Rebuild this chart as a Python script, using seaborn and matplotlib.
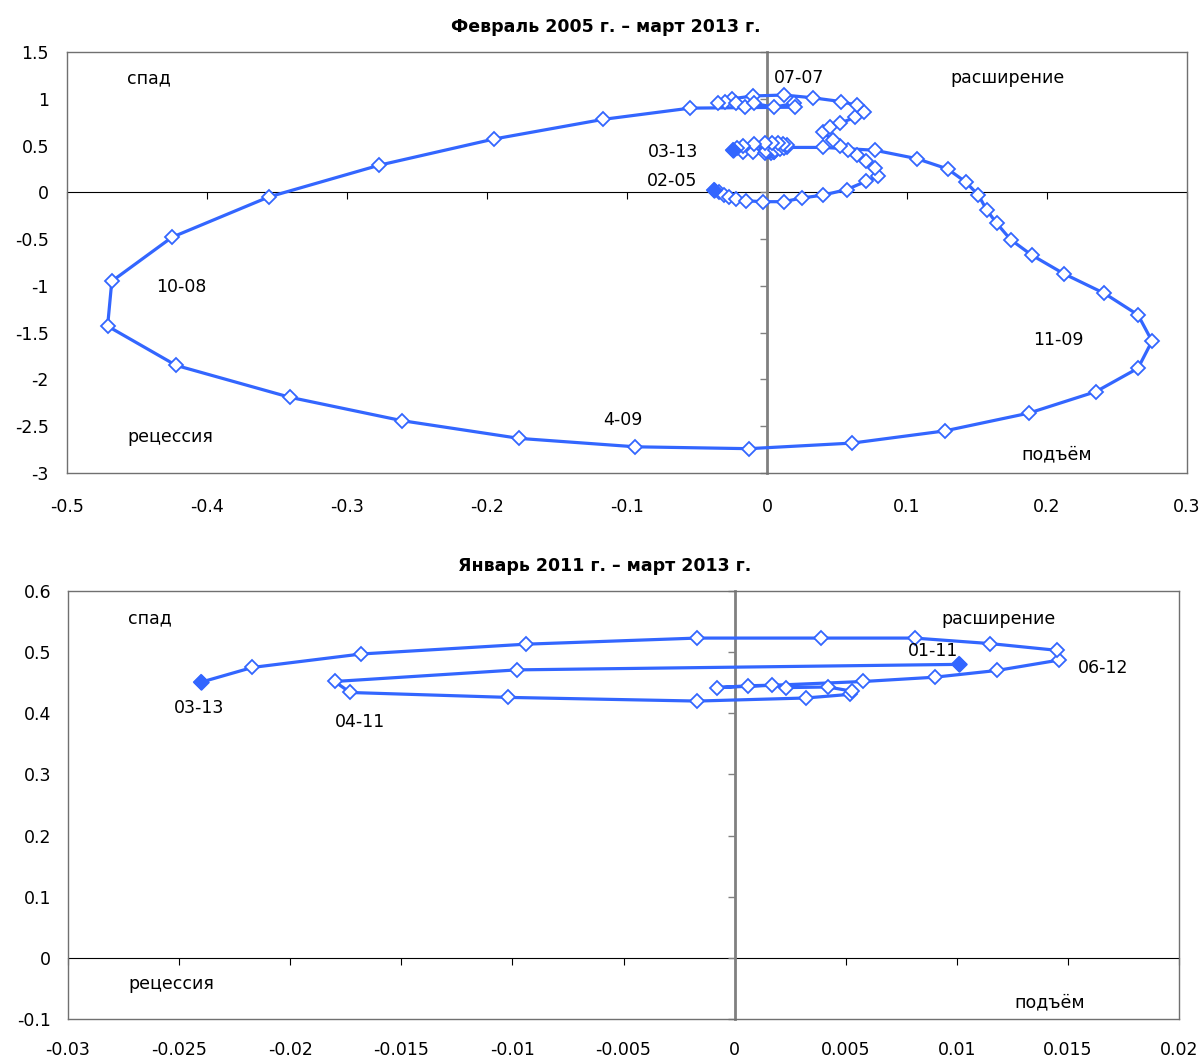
import matplotlib
matplotlib.use("Agg")
import matplotlib.pyplot as plt
import pandas as pd
import seaborn as sns
from matplotlib.ticker import FuncFormatter

# месяцы: февраль 2005 – март 2013
months = pd.date_range("2005-02-01", "2013-03-01", freq="MS").strftime("%m-%y")

# февраль 2005 – декабрь 2010
x_05_10 = [-0.038, -0.034, -0.031, -0.027, -0.022, -0.015, -0.003, 0.012, 0.025, 0.040, 0.057,
           0.071, 0.079, 0.077, 0.071, 0.064, 0.058, 0.052, 0.047, 0.040, 0.045, 0.052, 0.063,
           0.069, 0.064, 0.053, 0.033, 0.012, -0.010, -0.025, -0.030, -0.035, -0.022, -0.016,
           -0.009, 0.005, 0.019, 0.020, -0.055, -0.117, -0.195, -0.277, -0.356, -0.425, -0.468,
           -0.471, -0.422, -0.341, -0.261, -0.177, -0.094, -0.013, 0.061, 0.127, 0.187, 0.235,
           0.265, 0.275, 0.265, 0.241, 0.212, 0.189, 0.174, 0.164, 0.157, 0.151, 0.142, 0.129,
           0.107, 0.077, 0.040]
y_05_10 = [0.03, 0.00, -0.03, -0.05, -0.07, -0.09, -0.10, -0.10, -0.06, -0.03, 0.03,
           0.12, 0.17, 0.26, 0.33, 0.40, 0.45, 0.50, 0.56, 0.64, 0.70, 0.74, 0.80,
           0.86, 0.93, 0.97, 1.01, 1.04, 1.03, 1.00, 0.965, 0.95, 0.96, 0.91,
           0.95, 0.91, 0.95, 0.91, 0.90, 0.78, 0.57, 0.29, -0.05, -0.48, -0.95,
           -1.43, -1.85, -2.19, -2.44, -2.63, -2.72, -2.74, -2.68, -2.55, -2.36, -2.13,
           -1.88, -1.59, -1.31, -1.08, -0.87, -0.67, -0.505, -0.33, -0.19, -0.03, 0.11, 0.25,
           0.36, 0.45, 0.48]

# январь 2011 – март 2013
x_11_13 = [0.0101, -0.0098, -0.0180, -0.0173, -0.0102, -0.0017, 0.0032, 0.0052, 0.0053,
           0.0042, 0.0023, 0.0017, 0.0006, -0.0008, 0.0058, 0.0090, 0.0118, 0.0146, 0.0145,
           0.0115, 0.0081, 0.0039, -0.0017, -0.0094, -0.0168, -0.0217, -0.0240]
y_11_13 = [0.480, 0.471, 0.452, 0.434, 0.426, 0.420, 0.425, 0.431, 0.436,
           0.443, 0.442, 0.446, 0.445, 0.442, 0.452, 0.459, 0.470, 0.487, 0.503,
           0.514, 0.523, 0.523, 0.523, 0.513, 0.497, 0.475, 0.451]

BLUE = "#3366ff"

sns.set_style("white")
plt.rcParams["font.family"] = ["DejaVu Sans"]
plt.rcParams["axes.unicode_minus"] = False
plt.rcParams["text.color"] = "black"
plt.rcParams["xtick.color"] = "black"
plt.rcParams["ytick.color"] = "black"

df_all = pd.DataFrame({"month": months, "x": x_05_10 + x_11_13, "y": y_05_10 + y_11_13})
df_last = df_all.iloc[-len(x_11_13):].reset_index(drop=True)


def draw_loop(ax, df):
    sns.lineplot(data=df, x="x", y="y", sort=False, estimator=None, ax=ax, color=BLUE,
                 linewidth=2.3, marker="D", markersize=7.5, markerfacecolor="white",
                 markeredgecolor=BLUE, markeredgewidth=1.3, zorder=3)
    ends = df.iloc[[0, -1]]
    sns.scatterplot(data=ends, x="x", y="y", ax=ax, marker="D", s=56, color=BLUE,
                    edgecolor=BLUE, linewidth=1.3, zorder=4)


def style_axes(ax, xlim, ylim, xstep, ystep, xpad, ypad):
    ax.set_xlim(xlim)
    ax.set_ylim(ylim)
    xt = [round(xlim[0] + i * xstep, 4) for i in range(int(round((xlim[1] - xlim[0]) / xstep)) + 1)]
    yt = [round(ylim[0] + i * ystep, 4) for i in range(int(round((ylim[1] - ylim[0]) / ystep)) + 1)]
    ax.set_xticks(xt)
    ax.set_yticks(yt)
    fmt = FuncFormatter(lambda v, p: f"{v:g}" if abs(v) > 1e-9 else "0")
    ax.xaxis.set_major_formatter(fmt)
    ax.yaxis.set_major_formatter(fmt)
    ax.tick_params(axis="x", length=0, pad=xpad, labelsize=12.5, labelcolor="black")
    ax.tick_params(axis="y", length=0, pad=ypad, labelsize=12.5, labelcolor="black")
    ax.set_xlabel("")
    ax.set_ylabel("")
    for s in ax.spines.values():
        s.set_color("#707070")
        s.set_linewidth(1)
    # оси, пересекающиеся в нуле
    yfrac = -ylim[0] / (ylim[1] - ylim[0])
    xfrac = -xlim[0] / (xlim[1] - xlim[0])
    sx = ax.secondary_xaxis(yfrac)
    sx.set_xticks(xt)
    sx.tick_params(direction="in" if yfrac >= 0.5 else "out", length=5, color="black",
                   labeltop=False, labelbottom=False)
    for s in sx.spines.values():
        s.set_color("black")
    sy = ax.secondary_yaxis(xfrac)
    sy.set_yticks(yt)
    sy.tick_params(direction="in", length=5, color="#808080", width=1,
                   labelleft=False, labelright=False)
    for s in sy.spines.values():
        s.set_color("#808080")
        s.set_linewidth(2)


fig = plt.figure(figsize=(12.04, 10.62), dpi=100)
ax1 = fig.add_axes([67 / 1204, 1 - 473 / 1062, 1120 / 1204, 421 / 1062])
ax2 = fig.add_axes([68 / 1204, 1 - 1019 / 1062, 1111 / 1204, 428 / 1062])

draw_loop(ax1, df_all)
style_axes(ax1, (-0.5, 0.3), (-3, 1.5), 0.1, 0.5, 18, 13)
txt = dict(fontsize=12.5, va="center", color="black")
ax1.text(-0.457, 1.22, "спад", ha="left", **txt)
ax1.text(0.131, 1.22, "расширение", ha="left", **txt)
ax1.text(-0.457, -2.61, "рецессия", ha="left", **txt)
ax1.text(0.182, -2.80, "подъём", ha="left", **txt)
ax1.text(-0.436, -1.01, "10-08", ha="left", **txt)
ax1.text(-0.103, -2.43, "4-09", ha="center", **txt)
ax1.text(0.190, -1.58, "11-09", ha="left", **txt)
ax1.text(0.005, 1.22, "07-07", ha="left", **txt)
ax1.text(-0.049, 0.43, "03-13", ha="right", **txt)
ax1.text(-0.050, 0.12, "02-05", ha="right", **txt)

draw_loop(ax2, df_last)
style_axes(ax2, (-0.03, 0.02), (-0.1, 0.6), 0.005, 0.1, 16, 12)
ax2.text(-0.0273, 0.555, "спад", ha="left", **txt)
ax2.text(0.0093, 0.555, "расширение", ha="left", **txt)
ax2.text(-0.0273, -0.042, "рецессия", ha="left", **txt)
ax2.text(0.0126, -0.073, "подъём", ha="left", **txt)
ax2.text(0.0078, 0.502, "01-11", ha="left", **txt)
ax2.text(0.01546, 0.474, "06-12", ha="left", **txt)
ax2.text(-0.0180, 0.386, "04-11", ha="left", **txt)
ax2.text(-0.0241, 0.409, "03-13", ha="center", **txt)

fig.text(606 / 1204, 1 - 27 / 1062, "Февраль 2005 г. – март 2013 г.", ha="center", va="center",
         fontsize=12.5, fontweight="bold", color="black")
fig.text(605 / 1204, 1 - 566 / 1062, "Январь 2011 г. – март 2013 г.", ha="center", va="center",
         fontsize=12.5, fontweight="bold", color="black")

fig.savefig("out.png", dpi=100)
